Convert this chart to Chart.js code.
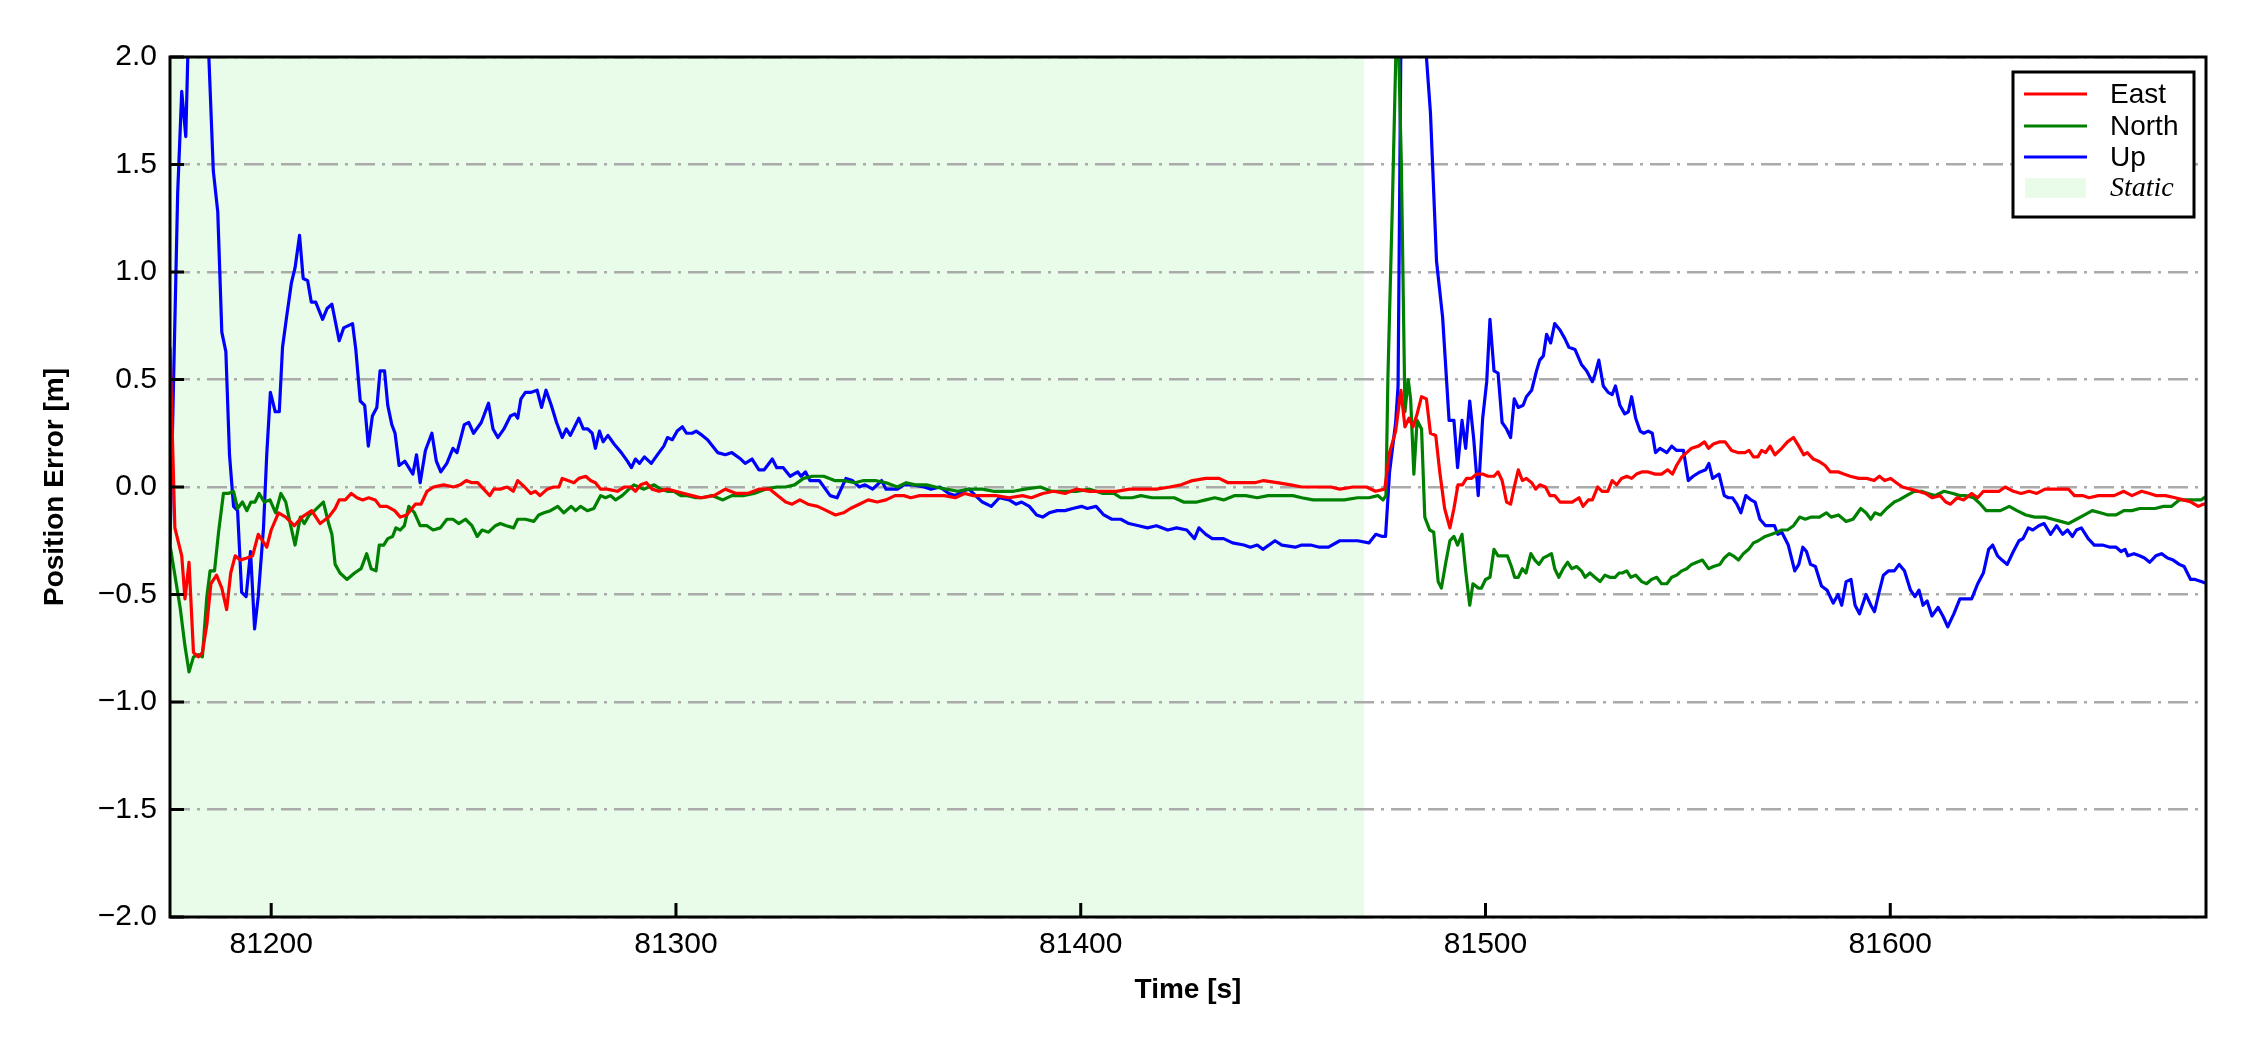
<!DOCTYPE html>
<html>
<head>
    <title>Position Error</title>
    <script src="https://cdn.jsdelivr.net/npm/chart.js"></script>
    <style>
        body { margin: 0; background: #fff; }
        #wrap { width: 2250px; height: 1050px; }
    </style>
</head>
<body>
<div id="wrap"><canvas id="errChart" width="2250" height="1050"></canvas></div>
<script>
// axis limits and ticks
const xMin = 81175, xMax = 81678;
const yMin = -2, yMax = 2, yStep = 0.5;
const xTicks = [81200, 81300, 81400, 81500, 81600];
const staticSpan = [81175, 81470];

// series, [time s, error m]
const east = [
  [81175.0,0.65],[81176.2,-0.19],[81177.9,-0.32],[81178.7,-0.52],[81179.7,-0.35],[81180.8,-0.77],[81182.0,-0.79],
  [81183.0,-0.77],[81184.1,-0.64],[81185.1,-0.45],[81186.5,-0.41],[81187.8,-0.47],[81189.0,-0.57],[81190.0,-0.40],
  [81191.1,-0.32],[81192.3,-0.34],[81194.0,-0.33],[81195.4,-0.32],[81196.8,-0.22],[81198.9,-0.28],[81200.0,-0.20],
  [81201.8,-0.12],[81203.6,-0.14],[81205.7,-0.18],[81207.6,-0.14],[81210.0,-0.11],[81212.1,-0.17],[81214.2,-0.14],
  [81215.8,-0.10],[81216.8,-0.06],[81218.3,-0.06],[81219.8,-0.03],[81221.2,-0.05],[81222.6,-0.06],[81224.1,-0.05],
  [81225.7,-0.06],[81226.9,-0.09],[81228.6,-0.09],[81230.5,-0.11],[81231.9,-0.14],[81233.5,-0.13],[81235.6,-0.08],
  [81237.0,-0.08],[81238.5,-0.02],[81240.1,0.00],[81242.6,0.01],[81245.1,0.00],[81246.7,0.01],[81248.2,0.03],
  [81249.6,0.02],[81251.0,0.02],[81252.5,-0.01],[81254.0,-0.04],[81255.0,-0.01],[81256.6,-0.01],[81258.3,0.00],
  [81259.8,-0.02],[81260.9,0.03],[81262.6,0.00],[81264.1,-0.03],[81265.3,-0.02],[81266.4,-0.04],[81268.2,-0.01],
  [81269.8,0.00],[81271.1,0.00],[81271.9,0.04],[81273.3,0.03],[81274.8,0.02],[81276.0,0.04],[81277.7,0.05],
  [81278.9,0.03],[81280.1,0.02],[81281.4,-0.01],[81283.0,-0.01],[81285.5,-0.02],[81287.3,0.00],[81288.8,0.00],
  [81290.0,-0.02],[81291.3,0.01],[81292.7,0.02],[81294.1,-0.01],[81295.8,-0.02],[81297.9,-0.01],[81299.9,-0.02],
  [81302.0,-0.03],[81304.0,-0.04],[81306.1,-0.05],[81309.4,-0.04],[81312.2,-0.01],[81314.9,-0.03],[81317.7,-0.03],
  [81320.5,-0.01],[81323.2,-0.01],[81325.1,-0.04],[81327.1,-0.07],[81328.7,-0.08],[81330.6,-0.06],[81332.6,-0.08],
  [81335.0,-0.09],[81337.2,-0.11],[81339.4,-0.13],[81341.4,-0.12],[81343.1,-0.10],[81345.3,-0.08],[81347.5,-0.06],
  [81349.7,-0.07],[81351.9,-0.06],[81354.1,-0.04],[81356.3,-0.04],[81358.0,-0.05],[81360.2,-0.04],[81361.9,-0.04],
  [81364.1,-0.04],[81366.3,-0.04],[81369.0,-0.05],[81371.3,-0.03],[81373.5,-0.04],[81376.2,-0.04],[81379.0,-0.04],
  [81382.3,-0.05],[81385.6,-0.04],[81387.8,-0.05],[81390.6,-0.03],[81393.3,-0.02],[81396.1,-0.03],[81398.9,-0.01],
  [81402.2,-0.02],[81405.5,-0.02],[81408.8,-0.02],[81412.1,-0.01],[81415.4,-0.01],[81418.7,-0.01],[81422.0,0.00],
  [81424.8,0.01],[81427.6,0.03],[81430.9,0.04],[81434.2,0.04],[81436.4,0.02],[81439.7,0.02],[81443.0,0.02],
  [81445.2,0.03],[81448.5,0.02],[81451.9,0.01],[81454.6,0.00],[81458.5,0.00],[81461.8,0.00],[81464.0,-0.01],
  [81467.3,0.00],[81470.6,0.00],[81472.8,-0.02],[81475.1,-0.01],[81476.3,0.16],[81477.8,0.26],[81479.1,0.45],
  [81480.1,0.28],[81481.1,0.32],[81482.1,0.28],[81483.1,0.34],[81484.2,0.42],[81485.4,0.41],[81486.4,0.25],
  [81487.7,0.24],[81488.7,0.07],[81489.9,-0.10],[81491.2,-0.19],[81492.2,-0.10],[81493.2,0.01],[81494.3,0.01],
  [81495.3,0.04],[81496.5,0.04],[81497.8,0.06],[81499.3,0.06],[81500.6,0.05],[81502.1,0.05],[81503.1,0.07],
  [81504.1,0.03],[81505.2,-0.07],[81506.2,-0.08],[81507.1,0.00],[81508.1,0.08],[81509.1,0.03],[81510.1,0.04],
  [81511.4,0.02],[81512.4,-0.01],[81513.4,0.01],[81514.8,0.00],[81515.9,-0.04],[81517.1,-0.04],[81518.4,-0.07],
  [81520.0,-0.07],[81521.4,-0.07],[81523.1,-0.05],[81524.1,-0.09],[81525.4,-0.06],[81526.4,-0.06],[81527.7,0.00],
  [81528.8,-0.02],[81530.2,-0.02],[81531.3,0.03],[81532.4,0.01],[81533.6,0.04],[81534.9,0.05],[81536.1,0.04],
  [81537.3,0.06],[81538.6,0.07],[81540.2,0.07],[81541.9,0.06],[81543.5,0.06],[81545.0,0.08],[81546.2,0.06],
  [81547.2,0.10],[81548.5,0.14],[81549.7,0.16],[81550.9,0.18],[81552.6,0.19],[81554.1,0.21],[81555.1,0.18],
  [81556.3,0.20],[81557.9,0.21],[81559.2,0.21],[81560.8,0.17],[81562.3,0.16],[81564.1,0.16],[81565.1,0.17],
  [81566.2,0.14],[81567.3,0.14],[81568.2,0.17],[81569.2,0.16],[81570.3,0.19],[81571.5,0.15],[81573.2,0.18],
  [81574.6,0.21],[81576.1,0.23],[81577.4,0.19],[81578.6,0.15],[81579.5,0.16],[81581.0,0.13],[81582.3,0.12],
  [81583.9,0.10],[81585.2,0.07],[81587.2,0.07],[81588.5,0.06],[81590.1,0.05],[81592.2,0.04],[81594.2,0.04],
  [81596.0,0.03],[81597.3,0.05],[81598.6,0.03],[81600.1,0.04],[81601.5,0.02],[81603.0,0.00],[81605.0,-0.01],
  [81606.9,-0.02],[81608.7,-0.03],[81610.3,-0.05],[81612.3,-0.04],[81613.7,-0.07],[81614.9,-0.08],[81616.5,-0.05],
  [81618.1,-0.06],[81620.1,-0.03],[81621.6,-0.05],[81623.0,-0.02],[81625.0,-0.02],[81626.9,-0.02],[81628.4,0.00],
  [81630.4,-0.02],[81632.3,-0.03],[81634.3,-0.02],[81636.2,-0.03],[81638.2,-0.01],[81640.1,-0.01],[81642.6,-0.01],
  [81644.0,-0.01],[81645.5,-0.04],[81647.5,-0.04],[81649.1,-0.05],[81651.4,-0.04],[81653.3,-0.04],[81655.3,-0.04],
  [81657.7,-0.02],[81659.7,-0.04],[81662.1,-0.02],[81664.1,-0.03],[81665.6,-0.04],[81668.0,-0.04],[81670.4,-0.05],
  [81672.4,-0.06],[81674.3,-0.07],[81676.1,-0.09],[81677.3,-0.08],[81678.3,-0.08]
];

const north = [
  [81175.0,-0.27],[81177.5,-0.56],[81178.7,-0.74],[81179.7,-0.86],[81180.8,-0.79],[81182.0,-0.78],[81183.0,-0.79],
  [81184.1,-0.51],[81184.9,-0.39],[81186.0,-0.39],[81187.0,-0.21],[81188.2,-0.03],[81189.4,-0.03],[81190.7,-0.02],
  [81191.7,-0.10],[81192.9,-0.07],[81194.0,-0.11],[81195.0,-0.07],[81196.0,-0.07],[81197.0,-0.03],[81198.3,-0.07],
  [81199.7,-0.06],[81201.1,-0.12],[81202.4,-0.03],[81203.6,-0.07],[81204.7,-0.17],[81205.9,-0.27],[81207.2,-0.14],
  [81208.2,-0.17],[81209.4,-0.13],[81210.7,-0.11],[81211.8,-0.09],[81212.9,-0.07],[81214.2,-0.17],[81215.0,-0.22],
  [81215.8,-0.36],[81217.0,-0.40],[81218.7,-0.43],[81220.6,-0.40],[81222.2,-0.38],[81223.6,-0.31],[81224.7,-0.38],
  [81225.9,-0.39],[81226.7,-0.27],[81227.8,-0.27],[81228.8,-0.24],[81230.0,-0.23],[81230.8,-0.19],[81231.9,-0.20],
  [81232.9,-0.18],[81234.0,-0.09],[81235.4,-0.12],[81236.8,-0.18],[81238.5,-0.18],[81240.0,-0.20],[81241.8,-0.19],
  [81243.4,-0.15],[81244.9,-0.15],[81246.3,-0.17],[81248.0,-0.15],[81249.6,-0.18],[81250.9,-0.23],[81252.1,-0.20],
  [81253.7,-0.21],[81255.4,-0.18],[81256.6,-0.17],[81258.1,-0.18],[81259.9,-0.19],[81260.9,-0.15],[81262.8,-0.15],
  [81264.9,-0.16],[81266.1,-0.13],[81267.4,-0.12],[81269.0,-0.11],[81270.8,-0.09],[81272.3,-0.12],[81274.1,-0.09],
  [81275.2,-0.11],[81276.4,-0.09],[81278.1,-0.11],[81279.7,-0.10],[81281.4,-0.04],[81282.6,-0.05],[81283.8,-0.04],
  [81285.1,-0.06],[81286.7,-0.04],[81288.4,-0.01],[81289.6,0.01],[81290.8,0.00],[81292.1,-0.01],[81293.3,0.00],
  [81294.6,0.01],[81296.2,-0.01],[81297.9,-0.02],[81299.5,-0.02],[81301.2,-0.04],[81302.8,-0.04],[81304.9,-0.05],
  [81306.5,-0.05],[81308.9,-0.04],[81311.6,-0.06],[81313.8,-0.04],[81316.6,-0.04],[81319.3,-0.03],[81322.1,-0.01],
  [81324.9,0.00],[81327.1,0.00],[81329.3,0.01],[81331.5,0.04],[81333.7,0.05],[81336.5,0.05],[81339.2,0.03],
  [81341.4,0.03],[81344.2,0.02],[81346.4,0.03],[81349.2,0.03],[81351.9,0.02],[81354.7,0.00],[81356.9,0.02],
  [81359.1,0.01],[81361.9,0.01],[81364.1,0.00],[81366.8,-0.01],[81369.6,-0.02],[81372.4,-0.01],[81375.7,-0.01],
  [81378.4,-0.02],[81381.2,-0.02],[81383.4,-0.02],[81386.2,-0.01],[81390.0,0.00],[81392.8,-0.02],[81395.5,-0.02],
  [81398.9,-0.02],[81402.2,-0.01],[81405.5,-0.03],[81408.2,-0.03],[81409.9,-0.05],[81412.7,-0.05],[81414.9,-0.04],
  [81417.6,-0.05],[81420.9,-0.05],[81423.1,-0.05],[81425.4,-0.07],[81428.7,-0.07],[81430.9,-0.06],[81433.1,-0.05],
  [81435.3,-0.06],[81438.1,-0.04],[81440.8,-0.04],[81443.6,-0.05],[81446.3,-0.04],[81449.7,-0.04],[81452.4,-0.04],
  [81454.6,-0.05],[81457.4,-0.06],[81460.1,-0.06],[81462.9,-0.06],[81465.1,-0.06],[81468.4,-0.05],[81471.2,-0.05],
  [81473.4,-0.04],[81474.7,-0.06],[81475.4,-0.04],[81475.9,0.52],[81477.0,1.32],[81478.2,2.30],[81479.2,1.51],
  [81480.1,0.35],[81480.9,0.50],[81481.5,0.41],[81482.3,0.06],[81483.1,0.31],[81484.2,0.27],[81485.0,-0.14],
  [81486.2,-0.20],[81487.2,-0.21],[81488.3,-0.44],[81489.1,-0.47],[81490.2,-0.35],[81491.2,-0.25],[81492.2,-0.23],
  [81493.1,-0.27],[81494.2,-0.22],[81495.1,-0.39],[81496.1,-0.55],[81496.9,-0.45],[81498.2,-0.47],[81499.0,-0.47],
  [81500.0,-0.43],[81501.1,-0.42],[81502.1,-0.29],[81503.1,-0.32],[81504.4,-0.32],[81505.4,-0.32],[81506.4,-0.37],
  [81507.2,-0.42],[81508.1,-0.42],[81509.1,-0.38],[81510.0,-0.40],[81511.2,-0.31],[81512.2,-0.34],[81513.2,-0.36],
  [81514.3,-0.33],[81515.3,-0.32],[81516.3,-0.31],[81517.1,-0.38],[81518.1,-0.42],[81519.2,-0.38],[81520.3,-0.35],
  [81521.3,-0.38],[81522.5,-0.37],[81523.7,-0.39],[81524.6,-0.42],[81525.8,-0.40],[81527.0,-0.42],[81528.3,-0.44],
  [81529.5,-0.41],[81530.7,-0.42],[81532.0,-0.42],[81533.0,-0.40],[81533.8,-0.40],[81534.9,-0.39],[81535.9,-0.42],
  [81537.1,-0.41],[81538.6,-0.44],[81539.8,-0.45],[81541.0,-0.43],[81542.3,-0.42],[81543.5,-0.45],[81544.8,-0.45],
  [81546.0,-0.42],[81547.2,-0.41],[81548.5,-0.39],[81549.7,-0.38],[81550.9,-0.36],[81552.2,-0.35],[81553.6,-0.34],
  [81555.1,-0.38],[81556.3,-0.37],[81557.9,-0.36],[81559.0,-0.33],[81560.2,-0.31],[81561.2,-0.32],[81562.5,-0.34],
  [81563.7,-0.31],[81565.0,-0.29],[81566.2,-0.26],[81567.4,-0.25],[81569.1,-0.23],[81570.7,-0.22],[81572.0,-0.21],
  [81573.2,-0.20],[81574.6,-0.20],[81576.1,-0.18],[81577.6,-0.14],[81579.0,-0.15],[81580.5,-0.14],[81582.5,-0.14],
  [81584.2,-0.12],[81585.4,-0.14],[81587.2,-0.13],[81589.1,-0.16],[81590.8,-0.15],[81592.7,-0.10],[81594.0,-0.12],
  [81595.2,-0.15],[81596.2,-0.12],[81597.6,-0.13],[81599.1,-0.10],[81601.0,-0.07],[81602.2,-0.06],[81604.0,-0.04],
  [81605.9,-0.02],[81607.7,-0.02],[81609.3,-0.03],[81611.0,-0.04],[81613.3,-0.02],[81615.5,-0.03],[81617.2,-0.04],
  [81618.6,-0.04],[81620.6,-0.05],[81622.3,-0.08],[81623.7,-0.11],[81625.5,-0.11],[81627.2,-0.11],[81629.4,-0.09],
  [81631.3,-0.11],[81633.5,-0.13],[81635.7,-0.14],[81638.2,-0.14],[81640.1,-0.15],[81642.1,-0.16],[81644.0,-0.17],
  [81646.0,-0.15],[81648.0,-0.13],[81649.9,-0.11],[81651.9,-0.12],[81653.8,-0.13],[81655.8,-0.13],[81657.7,-0.11],
  [81659.7,-0.11],[81661.6,-0.10],[81663.6,-0.10],[81665.4,-0.10],[81667.5,-0.09],[81669.5,-0.09],[81671.4,-0.06],
  [81673.4,-0.06],[81675.3,-0.06],[81676.8,-0.06],[81678.3,-0.04]
];

const up = [
  [81175.0,-0.27],[81176.9,1.37],[81177.9,1.84],[81178.9,1.63],[81180.0,2.45],[81182.0,3.00],[81184.0,2.35],
  [81184.6,2.00],[81185.7,1.47],[81186.8,1.28],[81187.8,0.72],[81188.8,0.63],[81189.7,0.15],[81190.7,-0.09],
  [81191.7,-0.11],[81192.7,-0.49],[81193.8,-0.51],[81194.9,-0.30],[81195.9,-0.66],[81196.8,-0.51],[81198.1,-0.19],
  [81198.9,0.15],[81199.8,0.44],[81201.0,0.35],[81202.0,0.35],[81202.8,0.65],[81203.8,0.79],[81205.0,0.95],
  [81205.9,1.02],[81207.0,1.17],[81207.9,0.97],[81209.0,0.96],[81209.9,0.86],[81211.0,0.86],[81212.7,0.78],
  [81213.8,0.83],[81215.0,0.85],[81216.8,0.68],[81217.9,0.74],[81220.1,0.76],[81220.9,0.64],[81222.0,0.40],
  [81223.1,0.38],[81224.0,0.19],[81225.0,0.33],[81226.1,0.37],[81226.9,0.54],[81228.0,0.54],[81228.8,0.38],
  [81229.8,0.29],[81230.6,0.25],[81231.6,0.10],[81233.0,0.12],[81234.0,0.09],[81235.0,0.06],[81235.9,0.15],
  [81236.8,0.02],[81238.1,0.17],[81239.7,0.25],[81240.8,0.12],[81241.9,0.07],[81243.4,0.11],[81244.9,0.18],
  [81245.9,0.16],[81247.7,0.29],[81248.8,0.30],[81250.0,0.25],[81251.9,0.30],[81253.7,0.39],[81254.8,0.27],
  [81256.0,0.23],[81257.5,0.27],[81259.1,0.33],[81260.2,0.34],[81260.9,0.32],[81261.7,0.41],[81262.8,0.44],
  [81264.1,0.44],[81265.7,0.45],[81266.8,0.37],[81267.9,0.45],[81269.2,0.38],[81270.5,0.30],[81271.9,0.23],
  [81272.9,0.27],[81273.9,0.24],[81276.0,0.32],[81277.1,0.27],[81278.2,0.27],[81279.3,0.25],[81280.1,0.18],
  [81281.1,0.26],[81282.0,0.21],[81283.2,0.24],[81284.7,0.20],[81286.5,0.16],[81288.0,0.12],[81289.0,0.09],
  [81290.0,0.13],[81291.0,0.11],[81292.2,0.14],[81293.9,0.11],[81295.8,0.16],[81297.0,0.19],[81297.9,0.23],
  [81299.1,0.22],[81300.3,0.26],[81301.6,0.28],[81302.6,0.25],[81304.0,0.25],[81305.0,0.26],[81306.5,0.24],
  [81307.8,0.22],[81310.3,0.16],[81312.2,0.15],[81313.8,0.16],[81316.0,0.13],[81317.1,0.11],[81318.8,0.13],
  [81320.5,0.08],[81321.8,0.08],[81323.8,0.13],[81324.9,0.09],[81326.5,0.09],[81328.2,0.05],[81330.1,0.07],
  [81330.9,0.05],[81332.0,0.07],[81333.1,0.03],[81335.4,0.03],[81338.1,-0.04],[81339.8,-0.05],[81342.0,0.04],
  [81343.6,0.03],[81345.3,0.00],[81346.7,0.01],[81348.6,-0.01],[81350.8,0.03],[81351.9,-0.01],[81354.7,-0.01],
  [81356.3,0.01],[81358.5,0.01],[81361.3,0.00],[81363.0,-0.01],[81365.2,0.00],[81367.4,-0.03],[81369.0,-0.04],
  [81370.7,-0.02],[81372.4,-0.01],[81374.0,-0.04],[81375.7,-0.07],[81377.9,-0.09],[81379.9,-0.05],[81382.3,-0.06],
  [81384.0,-0.08],[81385.4,-0.07],[81387.3,-0.09],[81389.1,-0.13],[81390.6,-0.14],[81392.2,-0.12],[81394.2,-0.11],
  [81396.1,-0.11],[81398.0,-0.10],[81400.2,-0.09],[81401.6,-0.10],[81403.8,-0.09],[81405.7,-0.13],[81407.7,-0.15],
  [81409.9,-0.15],[81411.9,-0.17],[81414.3,-0.18],[81416.5,-0.19],[81418.7,-0.18],[81421.5,-0.20],[81423.7,-0.19],
  [81426.2,-0.20],[81428.1,-0.24],[81429.2,-0.19],[81430.9,-0.22],[81432.5,-0.24],[81435.3,-0.24],[81437.5,-0.26],
  [81440.3,-0.27],[81441.9,-0.28],[81443.6,-0.27],[81445.0,-0.29],[81448.0,-0.25],[81449.7,-0.27],[81453.0,-0.28],
  [81454.6,-0.27],[81456.8,-0.27],[81459.0,-0.28],[81461.2,-0.28],[81464.0,-0.25],[81466.2,-0.25],[81468.4,-0.25],
  [81471.2,-0.26],[81472.9,-0.22],[81474.5,-0.23],[81475.3,-0.23],[81476.3,0.07],[81477.8,0.30],[81478.4,0.47],
  [81479.5,3.00],[81482.0,4.00],[81484.5,2.50],[81485.4,2.00],[81486.4,1.74],[81487.9,1.05],[81489.4,0.79],
  [81491.0,0.31],[81492.2,0.31],[81493.1,0.09],[81494.2,0.31],[81495.1,0.18],[81496.1,0.40],[81497.1,0.22],
  [81498.2,-0.04],[81499.3,0.32],[81500.3,0.49],[81501.1,0.78],[81502.1,0.54],[81503.1,0.53],[81504.1,0.30],
  [81505.2,0.27],[81506.2,0.23],[81507.1,0.41],[81508.1,0.37],[81509.3,0.38],[81510.1,0.42],[81511.4,0.45],
  [81512.6,0.54],[81513.4,0.59],[81514.3,0.61],[81515.1,0.71],[81516.1,0.67],[81517.1,0.76],[81518.4,0.73],
  [81519.6,0.69],[81520.6,0.65],[81522.1,0.64],[81523.7,0.57],[81525.0,0.54],[81526.4,0.49],[81527.0,0.52],
  [81528.0,0.59],[81529.1,0.47],[81530.3,0.44],[81531.3,0.43],[81532.1,0.47],[81533.2,0.38],[81534.4,0.34],
  [81535.3,0.35],[81536.1,0.42],[81537.1,0.32],[81538.2,0.26],[81539.1,0.25],[81540.2,0.26],[81541.2,0.25],
  [81542.0,0.16],[81543.1,0.18],[81544.8,0.16],[81546.0,0.19],[81547.2,0.17],[81548.9,0.17],[81550.1,0.03],
  [81551.3,0.05],[81553.0,0.07],[81554.4,0.08],[81555.2,0.11],[81556.1,0.04],[81557.7,0.06],[81559.0,-0.04],
  [81560.0,-0.05],[81561.0,-0.05],[81562.1,-0.08],[81563.1,-0.12],[81564.3,-0.04],[81565.6,-0.06],[81566.6,-0.07],
  [81567.8,-0.15],[81569.2,-0.18],[81570.6,-0.18],[81571.4,-0.18],[81572.2,-0.22],[81573.2,-0.21],[81574.8,-0.27],
  [81576.4,-0.39],[81577.4,-0.36],[81578.4,-0.28],[81579.3,-0.30],[81580.3,-0.36],[81581.5,-0.37],[81583.0,-0.46],
  [81584.4,-0.48],[81585.9,-0.54],[81587.1,-0.50],[81588.0,-0.55],[81589.1,-0.44],[81590.3,-0.43],[81591.3,-0.55],
  [81592.4,-0.59],[81594.0,-0.50],[81595.2,-0.55],[81596.1,-0.58],[81597.1,-0.50],[81598.3,-0.41],[81599.6,-0.39],
  [81601.0,-0.39],[81602.2,-0.36],[81603.5,-0.39],[81605.0,-0.48],[81606.1,-0.51],[81607.1,-0.48],[81608.1,-0.55],
  [81609.1,-0.53],[81610.3,-0.60],[81611.8,-0.56],[81613.0,-0.60],[81614.2,-0.65],[81615.7,-0.59],[81617.2,-0.52],
  [81618.6,-0.52],[81620.1,-0.52],[81621.6,-0.45],[81623.0,-0.40],[81624.3,-0.29],[81625.3,-0.27],[81626.5,-0.32],
  [81627.6,-0.34],[81628.9,-0.36],[81630.4,-0.30],[81631.8,-0.25],[81632.8,-0.24],[81634.1,-0.19],[81635.2,-0.20],
  [81636.7,-0.18],[81638.0,-0.17],[81639.6,-0.22],[81641.1,-0.18],[81642.6,-0.22],[81643.8,-0.20],[81645.0,-0.23],
  [81646.0,-0.20],[81647.2,-0.19],[81648.9,-0.24],[81650.4,-0.27],[81652.4,-0.27],[81654.3,-0.28],[81655.8,-0.28],
  [81657.0,-0.30],[81658.0,-0.29],[81658.7,-0.32],[81660.2,-0.31],[81661.6,-0.32],[81662.8,-0.33],[81664.1,-0.35],
  [81665.6,-0.32],[81667.0,-0.31],[81668.5,-0.33],[81669.9,-0.34],[81671.4,-0.36],[81672.6,-0.37],[81674.2,-0.43],
  [81675.3,-0.43],[81676.8,-0.44],[81678.3,-0.45]
];

const seriesNames = ['East', 'North', 'Up'];
const seriesColors = ['#ff0000', '#008000', '#0000ff'];
const staticLabel = 'Static';
const staticColor = 'rgba(144, 238, 144, 0.2)';

const sansFont = "'Liberation Sans', Arial, sans-serif";
const serifFont = "'Liberation Serif', 'Times New Roman', serif";

const toXY = arr => arr.map(p => ({ x: p[0], y: p[1] }));

// light green band for the static period, under the grid
const staticBand = {
    id: 'staticBand',
    beforeDraw(chart) {
        const { ctx, chartArea, scales } = chart;
        ctx.save();
        ctx.fillStyle = '#ffffff';
        ctx.fillRect(0, 0, chart.width, chart.height);
        const x0 = scales.x.getPixelForValue(staticSpan[0]);
        const x1 = scales.x.getPixelForValue(staticSpan[1]);
        ctx.fillStyle = staticColor;
        ctx.fillRect(x0, chartArea.top, x1 - x0, chartArea.bottom - chartArea.top);
        ctx.restore();
    }
};

// black frame, inward ticks and the boxed legend
const frameAndLegend = {
    id: 'frameAndLegend',
    afterDraw(chart) {
        const { ctx, chartArea: a, scales } = chart;
        ctx.save();
        ctx.strokeStyle = '#000';
        ctx.lineWidth = 3;
        ctx.beginPath();
        scales.y.ticks.forEach(t => {
            const y = scales.y.getPixelForValue(t.value);
            ctx.moveTo(a.left, y);
            ctx.lineTo(a.left + 14, y);
        });
        scales.x.ticks.forEach(t => {
            const x = scales.x.getPixelForValue(t.value);
            ctx.moveTo(x, a.bottom);
            ctx.lineTo(x, a.bottom - 14);
        });
        ctx.stroke();
        ctx.strokeRect(a.left, a.top, a.right - a.left, a.bottom - a.top);

        // legend
        const bw = 181, bh = 145;
        const bx = a.right - 12 - bw, by = a.top + 15;
        ctx.fillStyle = '#fff';
        ctx.fillRect(bx, by, bw, bh);
        ctx.lineWidth = 3;
        ctx.strokeRect(bx, by, bw, bh);
        const rowY = [by + 22, by + 54, by + 85, by + 116];
        ctx.textBaseline = 'middle';
        ctx.textAlign = 'left';
        seriesNames.forEach((name, i) => {
            ctx.strokeStyle = seriesColors[i];
            ctx.lineWidth = 3.2;
            ctx.beginPath();
            ctx.moveTo(bx + 11, rowY[i]);
            ctx.lineTo(bx + 74, rowY[i]);
            ctx.stroke();
            ctx.fillStyle = '#000';
            ctx.font = '28px ' + sansFont;
            ctx.fillText(name, bx + 97, rowY[i] + 1);
        });
        ctx.fillStyle = staticColor;
        ctx.fillRect(bx + 12, rowY[3] - 10, 61, 20);
        ctx.fillStyle = '#000';
        ctx.font = 'italic 28px ' + serifFont;
        ctx.fillText(staticLabel, bx + 97, rowY[3] + 1);
        ctx.restore();
    }
};

new Chart(document.getElementById('errChart'), {
    type: 'line',
    data: {
        datasets: [east, north, up].map((d, i) => ({
            label: seriesNames[i],
            data: toXY(d),
            borderColor: seriesColors[i],
            borderWidth: 3.2,
            borderJoinStyle: 'round',
            pointRadius: 0,
            tension: 0,
            fill: false
        }))
    },
    options: {
        responsive: false,
        devicePixelRatio: 1,
        animation: false,
        events: [],
        layout: { padding: { top: 57, right: 44, left: 0, bottom: 0 } },
        plugins: {
            legend: { display: false },
            tooltip: { enabled: false }
        },
        scales: {
            x: {
                type: 'linear',
                min: xMin,
                max: xMax,
                afterFit: s => { s.height = 133; },
                afterBuildTicks: s => { s.ticks = xTicks.map(v => ({ value: v })); },
                grid: { display: false, drawTicks: false },
                border: { display: false },
                ticks: {
                    padding: 10,
                    color: '#000',
                    font: { family: sansFont, size: 30 },
                    maxRotation: 0,
                    callback: v => String(v)
                },
                title: {
                    display: true,
                    text: 'Time [s]',
                    color: '#000',
                    font: { family: sansFont, size: 28, weight: 'bold' },
                    padding: { top: 0, bottom: 43 }
                }
            },
            y: {
                min: yMin,
                max: yMax,
                afterFit: s => { s.width = 170; },
                ticks: {
                    stepSize: yStep,
                    padding: 13,
                    color: '#000',
                    font: { family: sansFont, size: 30 },
                    callback: v => (v < 0 ? '\u2212' : '') + Math.abs(v).toFixed(1)
                },
                grid: {
                    color: '#aaaaaa',
                    lineWidth: 2.5,
                    drawTicks: false
                },
                border: { display: false, dash: [20, 7, 3, 7] },
                title: {
                    display: true,
                    text: 'Position Error [m]',
                    color: '#000',
                    font: { family: sansFont, size: 28, weight: 'bold' },
                    padding: { top: 38, bottom: 0 }
                }
            }
        }
    },
    plugins: [staticBand, frameAndLegend]
});
</script>
</body>
</html>
